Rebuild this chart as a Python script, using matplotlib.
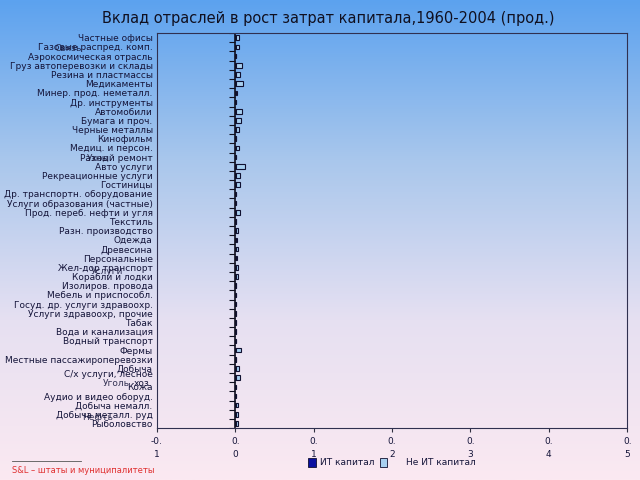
import matplotlib
matplotlib.use('Agg')
import matplotlib.pyplot as plt
import numpy as np
from matplotlib.colors import LinearSegmentedColormap

plt.rcParams['font.family'] = ['DejaVu Sans']

# отрасли (сверху вниз)
categories = ['Частные офисы', 'Газовые распред. комп.', 'Аэрокосмическая отрасль',
              'Груз автоперевозки и склады', 'Резина и пластмассы', 'Медикаменты',
              'Минер. прод. неметалл.', 'Др. инструменты', 'Автомобили', 'Бумага и проч.',
              'Черные металлы', 'Кинофильм', 'Медиц. и персон.', 'Разный ремонт',
              'Авто услуги', 'Рекреационные услуги', 'Гостиницы',
              'Др. транспортн. оборудование', 'Услуги образования (частные)',
              'Прод. переб. нефти и угля', 'Текстиль', 'Разн. производство', 'Одежда',
              'Древесина', 'Персональные', 'Жел-дор транспорт', 'Корабли и лодки',
              'Изолиров. провода', 'Мебель и приспособл.', 'Госуд. др. услуги здравоохр.',
              'Услуги здравоохр, прочие', 'Табак', 'Вода и канализация', 'Водный транспорт',
              'Фермы', 'Местные пассажироперевозки', 'Добыча', 'С/х услуги, лесное\nхоз.',
              'Кожа', 'Аудио и видео оборуд.', 'Добыча немалл.', 'Добыча металл. руд',
              'Рыболовство']
it_cap = [0.001, 0.001, 0.0005, 0.001, 0.001, 0.001, 0.0005, 0.0005, 0.001, 0.001,
          0.001, 0.0005, 0.001, 0.0005, 0.001, 0.001, 0.001, 0.0005, 0.0005, 0.001,
          0.0005, 0.001, 0.0005, 0.001, 0.0005, 0.001, 0.0005, 0.0005, 0.0005, 0.0005,
          0.0005, 0.0005, 0.0005, 0.0005, 0.001, 0.0005, 0.001, 0.001, 0.0005, 0.0005,
          0.001, 0.001, 0.001]
non_it_cap = [0.004, 0.004, 0.001, 0.008, 0.005, 0.009, 0.002, 0.001, 0.008, 0.007,
              0.004, 0.001, 0.004, 0.001, 0.012, 0.005, 0.005, 0.001, 0.001, 0.005,
              0.001, 0.002, 0.002, 0.003, 0.002, 0.002, 0.003, 0.001, 0.001, 0.001,
              0.001, 0.001, 0.001, 0.001, 0.006, 0.001, 0.004, 0.005, 0.001, 0.001,
              0.002, 0.002, 0.002]
# подписи, наложенные на соседние (как в оригинале)
extra_labels = ['Связь', 'Уход', 'Услуги', 'Уголь', 'Нефть']
extra_x = [-0.196, -0.160, -0.143, -0.134, -0.156]
extra_y = [1.13, 13.1, 25.5, 37.6, 41.3]
xticks = [-0.1, 0.0, 0.1, 0.2, 0.3, 0.4, 0.5]
xtick_labels = ['-0.\n1', '0.\n0', '0.\n1', '0.\n2', '0.\n3', '0.\n4', '0.\n5']

fig = plt.figure(figsize=(6.4, 4.8), dpi=100)

# градиентный фон
bg = fig.add_axes([0, 0, 1, 1], zorder=-10)
cmap = LinearSegmentedColormap.from_list('bg', ['#5ca2ef', '#a9c7ec', '#e6e0f2', '#fbe9f1'])
bg.imshow(np.linspace(0, 1, 256).reshape(-1, 1), aspect='auto', cmap=cmap,
          extent=[0, 1, 0, 1])
bg.axis('off')

ax = fig.add_axes([0.245, 0.108, 0.735, 0.823])
ax.patch.set_alpha(0)
y = np.arange(len(categories))
ax.barh(y, it_cap, height=0.5, color='#0a10a0', edgecolor='#101030', lw=0.8)
ax.barh(y, non_it_cap, left=it_cap, height=0.5, color='#a8d0f0',
        edgecolor='#101030', lw=0.8)
ax.axvline(0, color='#101020', lw=1.2)
ax.plot(np.zeros(len(categories) + 1), np.arange(len(categories) + 1) - 0.5,
        ls='', marker=0, ms=4, mew=0.8, color='#101020')

ax.set_xlim(-0.1, 0.5)
ax.set_ylim(len(categories) - 0.5, -0.5)
ax.set_yticks(y)
ax.set_yticklabels(categories, fontsize=6.5, color='#15153a', linespacing=1.1)
ax.tick_params(axis='y', length=0, pad=3)
ax.set_xticks(xticks)
ax.set_xticklabels(xtick_labels, fontsize=6.5, color='#15153a', linespacing=1.5)
ax.tick_params(axis='x', length=3, color='#303040')
for s in ax.spines.values():
    s.set_color('#303050')
    s.set_linewidth(0.8)

for lab, xx, yy in zip(extra_labels, extra_x, extra_y):
    ax.text(xx, yy, lab, fontsize=6.5, color='#15153a', alpha=0.85,
            ha='right', va='center', clip_on=False)

fig.text(0.513, 0.962, 'Вклад отраслей в рост затрат капитала,1960-2004 (прод.)',
         ha='center', va='center', fontsize=10.5, color='#101020')

# легенда
fig.patches.append(plt.Rectangle((0.482, 0.028), 0.011, 0.018, transform=fig.transFigure,
                                 facecolor='#0a10a0', edgecolor='#101030', lw=0.6))
fig.text(0.5, 0.036, 'ИТ капитал', fontsize=6.5, color='#15153a', va='center')
fig.patches.append(plt.Rectangle((0.594, 0.028), 0.011, 0.018, transform=fig.transFigure,
                                 facecolor='#a8d0f0', edgecolor='#101030', lw=0.6))
fig.text(0.634, 0.036, 'Не ИТ капитал', fontsize=6.5, color='#15153a', va='center')

# сноска
fig.add_artist(plt.Line2D([0.019, 0.127], [0.04, 0.04], color='#555555', lw=0.6))
fig.text(0.019, 0.02, 'S&L – штаты и муниципалитеты', fontsize=6, color='#e03030',
         va='center')

plt.savefig('out.png', dpi=100)
